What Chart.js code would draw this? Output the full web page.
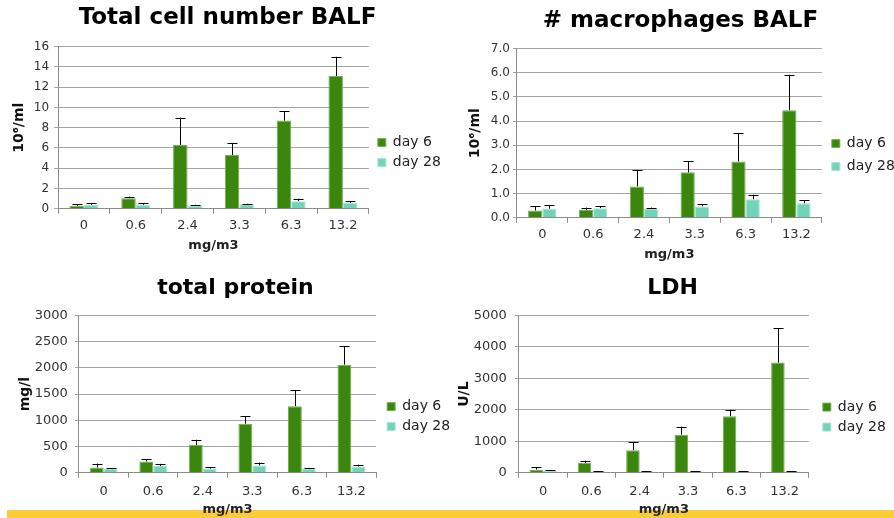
<!DOCTYPE html>
<html>
<head>
<meta charset="utf-8">
<script src="https://cdn.jsdelivr.net/npm/chart.js@4.4.1/dist/chart.umd.min.js"></script>
<style>
  html, body { margin: 0; padding: 0; background: #fff; }
  body { width: 894px; height: 518px; position: relative; overflow: hidden; }
  .box { position: absolute; }
  #yellowBar { position: absolute; left: 7px; top: 510px; width: 887px; height: 8px; background: #fbcd34; }
</style>
</head>
<body>
<div id="yellowBar"></div>
<div class="box" style="left:0;top:0;width:447px;height:256px"><canvas id="cellChart"></canvas></div>
<div class="box" style="left:447px;top:0;width:454px;height:262px"><canvas id="macroChart"></canvas></div>
<div class="box" style="left:0;top:259px;width:452px;height:259px"><canvas id="proteinChart"></canvas></div>
<div class="box" style="left:447px;top:259px;width:447px;height:259px"><canvas id="ldhChart"></canvas></div>
<script>
const categories = ['0', '0.6', '2.4', '3.3', '6.3', '13.2'];

// Total cell number BALF (10^6/ml)
const cellDay6 = [0.3, 1.05, 6.3, 5.3, 8.7, 13.1];
const cellDay28 = [0.4, 0.4, 0.3, 0.45, 0.75, 0.6];
const cellErr6 = [0.45, 1.2, 9.0, 6.5, 9.6, 15.0];
const cellErr28 = [0.55, 0.55, 0.4, 0.5, 1.0, 0.75];

// # macrophages BALF (10^6/ml)
const macroDay6 = [0.3, 0.32, 1.3, 1.88, 2.33, 4.45];
const macroDay28 = [0.38, 0.4, 0.37, 0.47, 0.77, 0.6];
const macroErr6 = [0.47, 0.42, 1.97, 2.33, 3.5, 5.92];
const macroErr28 = [0.52, 0.47, 0.42, 0.57, 0.95, 0.72];

// total protein (mg/l)
const protDay6 = [100, 215, 530, 935, 1270, 2060];
const protDay28 = [80, 130, 80, 140, 80, 120];
const protErr6 = [175, 260, 630, 1080, 1580, 2415];
const protErr28 = [85, 170, 105, 195, 90, 155];

// LDH (U/L)
const ldhDay6 = [100, 310, 720, 1210, 1800, 3500];
const ldhDay28 = [60, 40, 40, 40, 40, 40];
const ldhErr6 = [170, 390, 970, 1470, 2000, 4600];
const ldhErr28 = [90, 50, 50, 50, 50, 50];

const seriesNames = ['day 6', 'day 28'];
const FONT = '"DejaVu Sans", Verdana, sans-serif';

// draws the upper whisker of each bar up to the value in dataset.errTop
const errorBars = {
  id: 'errorBars',
  afterDatasetsDraw(chart) {
    const ctx = chart.ctx;
    const yScale = chart.scales.y;
    ctx.save();
    ctx.strokeStyle = '#000';
    ctx.lineWidth = 1;
    chart.data.datasets.forEach((ds, i) => {
      const meta = chart.getDatasetMeta(i);
      meta.data.forEach((bar, j) => {
        const top = yScale.getPixelForValue(ds.errTop[j]);
        const x = Math.round(bar.x) + 0.5;
        ctx.beginPath();
        ctx.moveTo(x, bar.y);
        ctx.lineTo(x, top);
        ctx.moveTo(x - 5, Math.round(top) + 0.5);
        ctx.lineTo(x + 5, Math.round(top) + 0.5);
        ctx.stroke();
      });
    });
    ctx.restore();
  }
};

// cfg: layout tweaks for each panel
function createChart(id, title, yTitle, yMax, yStep, decimals, d6, d28, e6, e28, cfg) {
  return new Chart(document.getElementById(id), {
    type: 'bar',
    data: {
      labels: categories,
      datasets: [{
        label: seriesNames[0],
        data: d6,
        errTop: e6,
        backgroundColor: '#3b870e',
        borderColor: '#74b152',
        borderWidth: 1,
        borderSkipped: 'bottom'
      }, {
        label: seriesNames[1],
        data: d28,
        errTop: e28,
        backgroundColor: '#72d3b9',
        borderColor: '#a6e5d3',
        borderWidth: 1,
        borderSkipped: 'bottom'
      }]
    },
    options: {
      responsive: true,
      maintainAspectRatio: false,
      animation: false,
      layout: { padding: cfg.pad },
      datasets: { bar: { barPercentage: 1, categoryPercentage: 0.56 } },
      plugins: {
        title: {
          display: true,
          text: title,
          color: '#000',
          font: { family: FONT, size: cfg.titleSize, weight: 'bold' },
          padding: cfg.titlePad
        },
        legend: {
          position: 'right',
          title: { display: true, text: ' ', font: { size: 1 }, padding: { top: 0, bottom: cfg.legendShift } },
          labels: {
            color: '#222',
            boxWidth: 8,
            boxHeight: 8,
            padding: cfg.legendPad,
            font: { family: FONT, size: 14 }
          }
        },
        tooltip: { enabled: false }
      },
      scales: {
        x: {
          grid: { drawOnChartArea: false, offset: true, tickLength: 5, color: '#8c8c8c' },
          border: { color: '#8c8c8c' },
          ticks: { color: '#333', font: { family: FONT, size: 13 }, padding: cfg.xTickPad },
          title: {
            display: true, text: 'mg/m3', color: '#222',
            font: { family: FONT, size: 13, weight: 'bold' }, padding: { top: cfg.xTitlePad, bottom: 0 }
          }
        },
        y: {
          min: 0, max: yMax,
          grid: { color: '#a6a6a6', tickLength: 4 },
          border: { color: '#8c8c8c' },
          ticks: {
            stepSize: yStep, color: '#333', font: { family: FONT, size: cfg.yTickSize }, padding: cfg.yTickPad,
            callback: v => v.toFixed(decimals)
          },
          title: {
            display: true, text: yTitle, color: '#111',
            font: { family: FONT, size: 14, weight: 'bold' }, padding: { top: 0, bottom: cfg.yTitlePad }
          }
        },
        // empty axis used only as a spacer between the plot and the legend
        gap: {
          position: 'right',
          grid: { display: false },
          border: { display: false },
          ticks: { display: false },
          afterFit: s => { s.width = cfg.legendGap; }
        }
      }
    },
    plugins: [errorBars]
  });
}

createChart('cellChart', 'Total cell number BALF', '10\u2076/ml', 16, 2, 0,
  cellDay6, cellDay28, cellErr6, cellErr28, {
    pad: { left: 11, right: 3, top: 0, bottom: 3 }, titleSize: 23, titlePad: { top: 4, bottom: 15 },
    legendShift: 51, legendPad: 6, legendGap: 3, xTickPad: 4, xTitlePad: 0,
    yTickSize: 12, yTickPad: 5, yTitlePad: 1
  });
createChart('macroChart', '# macrophages BALF', '10\u2076/ml', 7, 1, 1,
  macroDay6, macroDay28, macroErr6, macroErr28, {
    pad: { left: 20, right: 7, top: 5, bottom: 0 }, titleSize: 23, titlePad: { top: 2, bottom: 14 },
    legendShift: 42, legendPad: 9, legendGap: 1, xTickPad: 4, xTitlePad: 0,
    yTickSize: 12, yTickPad: 3, yTitlePad: 4
  });
createChart('proteinChart', 'total protein', 'mg/l', 3000, 500, 0,
  protDay6, protDay28, protErr6, protErr28, {
    pad: { left: 17, right: -2, top: 14, bottom: 1 }, titleSize: 22, titlePad: { top: 2, bottom: 14 },
    legendShift: 42, legendPad: 6, legendGap: 5, xTickPad: 6, xTitlePad: -4,
    yTickSize: 13, yTickPad: 7, yTitlePad: -6
  });
createChart('ldhChart', 'LDH', 'U/L', 5000, 1000, 0,
  ldhDay6, ldhDay28, ldhErr6, ldhErr28, {
    pad: { left: 9, right: 5, top: 14, bottom: 1 }, titleSize: 22, titlePad: { top: 2, bottom: 14 },
    legendShift: 43, legendPad: 6, legendGap: 8, xTickPad: 6, xTitlePad: -4,
    yTickSize: 13, yTickPad: 8, yTitlePad: -7
  });
</script>
</body>
</html>
